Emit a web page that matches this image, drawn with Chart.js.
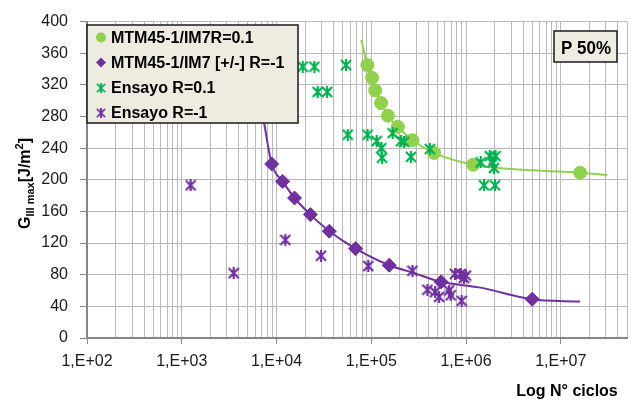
<!DOCTYPE html>
<html>
<head>
<meta charset="utf-8">
<script src="https://cdn.jsdelivr.net/npm/chart.js@4.4.1/dist/chart.umd.min.js"></script>
<style>
  html, body { margin: 0; padding: 0; background: #fff; }
  #wrap { width: 637px; height: 401px; }
</style>
</head>
<body>
<div id="wrap"><canvas id="grafica"></canvas></div>
<script>
// --- DATOS ---
const decades = [1e2, 1e3, 1e4, 1e5, 1e6, 1e7];
const xTickLabels = ['1,E+02', '1,E+03', '1,E+04', '1,E+05', '1,E+06', '1,E+07'];
const minorSteps = [2, 3, 4, 5, 6, 7, 8, 9];
const xMin = 1e2, xMax = 5e7;
const yMin = 0, yMax = 400, yStep = 40;

// MTM45-1/IM7 R=0.1 (círculos)
const modelR01N = [9.1e4, 1.02e5, 1.10e5, 1.27e5, 1.50e5, 1.91e5, 2.72e5, 4.6e5, 1.19e6, 1.6e7];
const modelR01G = [345, 329, 313, 297, 281, 267, 250, 234, 219, 209];
// curva ajustada R=0.1
const curveR01N = [7.85e4, 9.1e4, 1.02e5, 1.10e5, 1.27e5, 1.50e5, 1.91e5, 2.72e5, 4.6e5, 1.19e6, 5.0e6, 1.6e7, 3.1e7];
const curveR01G = [377, 345, 329, 313, 297, 281, 267, 250, 234, 219, 212, 209, 206];

// MTM45-1/IM7 [+/-] R=-1 (rombos)
const modelRm1N = [8.9e3, 1.16e4, 1.55e4, 2.28e4, 3.61e4, 6.84e4, 1.55e5, 5.46e5, 4.99e6];
const modelRm1G = [220, 198, 177, 156, 135, 113, 92, 71, 49];
// curva ajustada R=-1
const curveRm1N = [6.8e3, 7.5e3, 8.9e3, 1.16e4, 1.55e4, 2.28e4, 3.61e4, 6.84e4, 1.55e5, 2.7e5, 5.46e5, 1.37e6, 4.99e6, 1.6e7];
const curveRm1G = [300, 268, 220, 198, 177, 156, 135, 113, 92, 83, 71, 64, 49, 46];

// Ensayo R=0.1
const testR01N = [1.89e4, 2.51e4, 5.42e4, 2.72e4, 3.42e4, 5.64e4, 9.14e4, 1.14e5, 1.28e5, 1.30e5, 1.68e5, 2.06e5, 2.22e5, 2.62e5, 4.15e5, 1.43e6, 1.78e6, 2.05e6, 1.90e6, 1.97e6, 1.55e6, 2.02e6];
const testR01G = [343, 343, 345, 311, 311, 257, 257, 249, 240, 228, 259, 249, 248, 229, 239, 222, 230, 230, 222, 215, 193, 193];

// Ensayo R=-1
const testRm1N = [1.24e3, 3.53e3, 1.24e4, 2.95e4, 9.3e4, 2.72e5, 3.92e5, 4.72e5, 5.2e5, 6.63e5, 6.9e5, 7.66e5, 8.8e5, 9.5e5, 9.0e5, 1.0e6];
const testRm1G = [193, 82, 124, 104, 91, 85, 61, 58, 52, 60, 54, 81, 81, 76, 47, 79];

const legendItems = ['MTM45-1/IM7R=0.1', 'MTM45-1/IM7 [+/-] R=-1', 'Ensayo R=0.1', 'Ensayo R=-1'];
const boxLabel = 'P 50%';

const VERDE_CLARO = '#92D050';
const VERDE = '#00B050';
const MORADO = '#7030A0';
const FUENTE = "'Liberation Sans', Arial, sans-serif";

function pares(xs, ys) {
    return xs.map((x, i) => ({ x: x, y: ys[i] }));
}

// marcador estrella tipo Excel (X + barra vertical)
function crearEstrella(color, size) {
    const c = document.createElement('canvas');
    c.width = size; c.height = size;
    const g = c.getContext('2d');
    const m = 1, s = size;
    g.strokeStyle = color;
    g.lineWidth = 2.2;
    g.lineCap = 'butt';
    g.beginPath();
    g.moveTo(m, m); g.lineTo(s - m, s - m);
    g.moveTo(s - m, m); g.lineTo(m, s - m);
    g.moveTo(s / 2, 0); g.lineTo(s / 2, s);
    g.stroke();
    return c;
}
const estrellaVerde = crearEstrella(VERDE, 12);
const estrellaMorada = crearEstrella(MORADO, 12);

// ticks del eje log: décadas + 2..9
const xTickValues = [];
decades.forEach(d => {
    xTickValues.push(d);
    minorSteps.forEach(m => { if (d * m <= xMax) xTickValues.push(d * m); });
});

function esDecada(v) { return decades.indexOf(v) >= 0; }

// --- PLUGIN: títulos, leyenda y recuadro ---
const decoracion = {
    id: 'decoracion',
    afterDraw(chart) {
        const ctx = chart.ctx;
        ctx.save();

        // título eje X
        ctx.fillStyle = '#000';
        ctx.font = 'bold 16px ' + FUENTE;
        ctx.textAlign = 'center';
        ctx.textBaseline = 'alphabetic';
        ctx.fillText('Log N° ciclos', 567, 396);

        // título eje Y con subíndice y superíndice
        ctx.save();
        ctx.translate(30, 229);
        ctx.rotate(-Math.PI / 2);
        ctx.textAlign = 'left';
        let x = 0;
        const trozos = [
            { t: 'G', f: 'bold 16px ', dy: 0 },
            { t: 'III max', f: 'bold 11px ', dy: 4 },
            { t: '[J/m', f: 'bold 16px ', dy: 0 },
            { t: '2', f: 'bold 11px ', dy: -7 },
            { t: ']', f: 'bold 16px ', dy: 0 }
        ];
        trozos.forEach(p => {
            ctx.font = p.f + FUENTE;
            ctx.fillText(p.t, x, p.dy);
            x += ctx.measureText(p.t).width;
        });
        ctx.restore();

        // leyenda
        const lx = 87, ly = 25, lw = 211, lh = 98;
        ctx.fillStyle = '#EEECE1';
        ctx.fillRect(lx, ly, lw, lh);
        ctx.strokeStyle = '#1a1a1a';
        ctx.lineWidth = 1.5;
        ctx.strokeRect(lx, ly, lw, lh);

        const filas = [37.5, 62.5, 88, 113];
        filas.forEach((fy, i) => {
            const mx = 101;
            if (i === 0) {
                ctx.fillStyle = VERDE_CLARO;
                ctx.beginPath();
                ctx.arc(mx, fy, 5, 0, Math.PI * 2);
                ctx.fill();
            } else if (i === 1) {
                ctx.fillStyle = MORADO;
                ctx.beginPath();
                ctx.moveTo(mx, fy - 5); ctx.lineTo(mx + 5, fy);
                ctx.lineTo(mx, fy + 5); ctx.lineTo(mx - 5, fy);
                ctx.closePath();
                ctx.fill();
            } else {
                const img = i === 2 ? estrellaVerde : estrellaMorada;
                ctx.drawImage(img, mx - 5, fy - 5, 10, 10);
            }
            ctx.fillStyle = '#000';
            ctx.font = 'bold 16px ' + FUENTE;
            ctx.textAlign = 'left';
            ctx.textBaseline = 'middle';
            ctx.fillText(legendItems[i], 111, fy + 1);
        });

        // recuadro P 50%
        ctx.fillStyle = '#EEECE1';
        ctx.fillRect(554, 31, 63, 31);
        ctx.strokeStyle = '#1a1a1a';
        ctx.lineWidth = 1.5;
        ctx.strokeRect(554, 31, 63, 31);
        ctx.fillStyle = '#000';
        ctx.font = 'bold 19px ' + FUENTE;
        ctx.textAlign = 'center';
        ctx.textBaseline = 'alphabetic';
        ctx.fillText(boxLabel, 586, 54, 50);

        ctx.restore();
    }
};

// --- GRÁFICA ---
function inicializarGrafica() {
    const ctx = document.getElementById('grafica').getContext('2d');

    new Chart(ctx, {
        type: 'scatter',
        data: {
            datasets: [
                {
                    label: legendItems[2],
                    data: pares(testR01N, testR01G),
                    pointStyle: estrellaVerde,
                    pointRadius: 6,
                    order: 1
                },
                {
                    label: legendItems[3],
                    data: pares(testRm1N, testRm1G),
                    pointStyle: estrellaMorada,
                    pointRadius: 6,
                    order: 1
                },
                {
                    label: legendItems[0],
                    data: pares(modelR01N, modelR01G),
                    pointStyle: 'circle',
                    pointRadius: 6.5,
                    backgroundColor: VERDE_CLARO,
                    borderColor: VERDE_CLARO,
                    order: 2
                },
                {
                    label: legendItems[1],
                    data: pares(modelRm1N, modelRm1G),
                    pointStyle: 'rectRot',
                    pointRadius: 7,
                    backgroundColor: MORADO,
                    borderColor: MORADO,
                    order: 2
                },
                {
                    label: 'ajuste R=0.1',
                    data: pares(curveR01N, curveR01G),
                    showLine: true,
                    pointRadius: 0,
                    borderColor: VERDE_CLARO,
                    borderWidth: 2,
                    cubicInterpolationMode: 'monotone',
                    order: 3
                },
                {
                    label: 'ajuste R=-1',
                    data: pares(curveRm1N, curveRm1G),
                    showLine: true,
                    pointRadius: 0,
                    borderColor: MORADO,
                    borderWidth: 2,
                    cubicInterpolationMode: 'monotone',
                    order: 3
                }
            ]
        },
        options: {
            responsive: true,
            maintainAspectRatio: false,
            animation: false,
            layout: { padding: { top: 20, right: 10, left: 0, bottom: 0 } },
            plugins: {
                legend: { display: false },
                tooltip: { enabled: false }
            },
            scales: {
                x: {
                    type: 'logarithmic',
                    min: xMin,
                    max: xMax,
                    afterBuildTicks: (scale) => {
                        scale.ticks = xTickValues.map(v => ({ value: v, major: esDecada(v) }));
                    },
                    afterFit: (scale) => { scale.height = 63; },
                    border: { display: true, color: '#868686', width: 2 },
                    grid: {
                        color: '#B8B8B8',
                        lineWidth: 1,
                        tickLength: 6,
                        tickColor: (c) => (c.tick && esDecada(c.tick.value)) ? '#868686' : 'rgba(0,0,0,0)'
                    },
                    ticks: {
                        autoSkip: false,
                        maxRotation: 0,
                        padding: 8,
                        color: '#1a1a1a',
                        font: { family: FUENTE, size: 16 },
                        callback: (value) => {
                            const i = decades.indexOf(value);
                            return i >= 0 ? xTickLabels[i] : '';
                        }
                    }
                },
                y: {
                    min: yMin,
                    max: yMax,
                    afterFit: (scale) => { scale.width = 87; },
                    border: { display: true, color: '#868686', width: 2 },
                    grid: {
                        color: '#B8B8B8',
                        lineWidth: 1,
                        tickLength: 7,
                        tickColor: '#868686'
                    },
                    ticks: {
                        stepSize: yStep,
                        padding: 12,
                        color: '#1a1a1a',
                        font: { family: FUENTE, size: 16 }
                    }
                }
            }
        },
        plugins: [decoracion]
    });
}

document.addEventListener('DOMContentLoaded', inicializarGrafica);
</script>
</body>
</html>
